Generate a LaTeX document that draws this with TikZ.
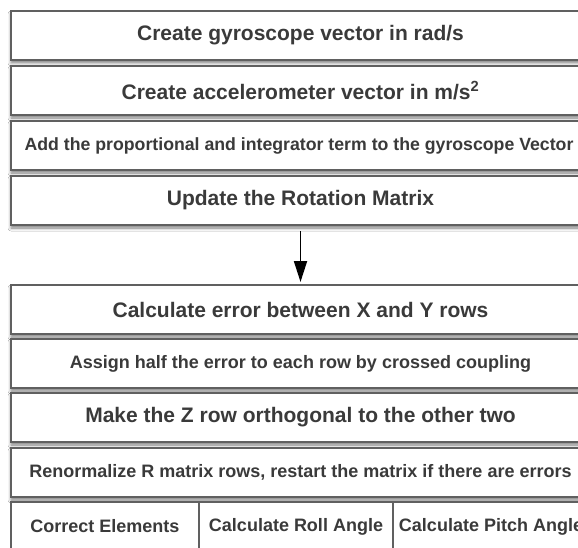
\documentclass[tikz,border=0pt]{standalone}
\usepackage{fontspec}
\setmainfont{Liberation Sans}
\usetikzlibrary{arrows.meta,shadows.blur}
\definecolor{bordergray}{HTML}{606060}
\definecolor{txtgray}{HTML}{3A3A3A}
\tikzset{
  stepbox/.style={draw=bordergray, line width=2bp, fill=white,
    minimum width=579bp, minimum height=49bp, anchor=north west,
    inner sep=0pt, text=txtgray, font=\bfseries\fontsize{21bp}{25bp}\selectfont,
    blur shadow={shadow xshift=0bp, shadow yshift=-3bp, shadow blur radius=3bp, shadow opacity=50}},
  smallbox/.style={stepbox, font=\bfseries\fontsize{18bp}{22bp}\selectfont},
  cellbox/.style={draw=bordergray, line width=2bp, fill=white,
    minimum height=49bp, anchor=north west, inner sep=0pt, text=txtgray,
    font=\bfseries\fontsize{18bp}{22bp}\selectfont},
  flowarrow/.style={line width=1.8bp, black, -{Triangle[length=21bp,width=13bp]}}
}
\begin{document}
\begin{tikzpicture}[x=1bp,y=-1bp]
\useasboundingbox (0,0) rectangle (578,548);
\clip (0,0) rectangle (578,548);
\fill[white] (0,0) rectangle (578,548);
\node[stepbox] (b1) at (10,10) {Create gyroscope vector in rad/s};
\node[stepbox] (b2) at (10,65) {Create accelerometer vector in m/s\textsuperscript{2}};
\node[smallbox, font=\bfseries\fontsize{17.7bp}{22bp}\selectfont, minimum width=576bp] (b3) at (10,120) {Add the proportional and integrator term to the gyroscope Vector};
\node[stepbox] (b4) at (10,175) {Update the Rotation Matrix};
\node[stepbox] (b5) at (10,284) {Calculate error between X and Y rows};
\node[smallbox] (b6) at (10,338) {Assign half the error to each row by crossed coupling};
\node[stepbox] (b7) at (10,392) {Make the Z row orthogonal to the other two};
\node[smallbox] (b8) at (10,447) {Renormalize R matrix rows, restart the matrix if there are errors};
\node[cellbox, minimum width=188bp] (c1) at (10,501) {Correct Elements};
\node[cellbox, minimum width=194bp] (c2) at (198,501) {Calculate Roll Angle};
\node[cellbox, minimum width=196bp] (c3) at (392,501) {Calculate Pitch Angle};
\draw[flowarrow, shorten <=5bp, shorten >=2bp] (b4.south) -- (b5.north);
\end{tikzpicture}
\end{document}
